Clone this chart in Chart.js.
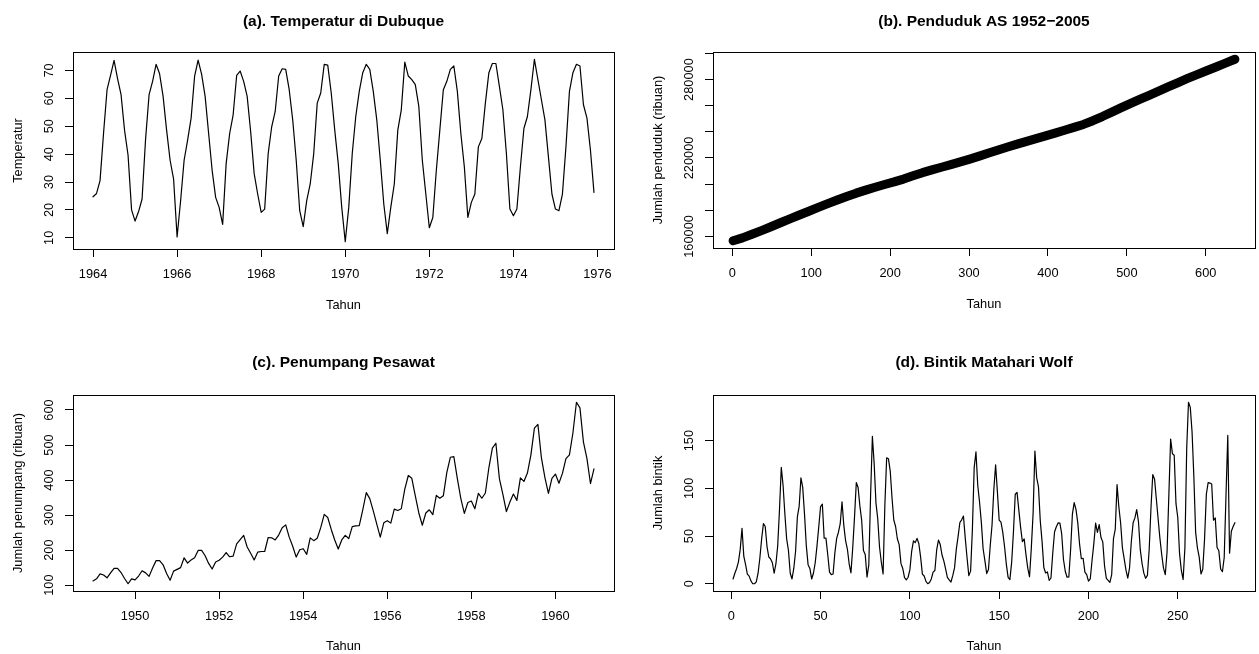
<!DOCTYPE html>
<html>
<head>
<meta charset="utf-8">
<script src="https://cdn.jsdelivr.net/npm/chart.js@4.4.1/dist/chart.umd.min.js"></script>
<style>
  html, body { margin: 0; padding: 0; background: #fff; overflow: hidden; }
  .panel { position: absolute; }
</style>
</head>
<body>
<div class="panel" style="left:0;top:0"><canvas id="pA" width="629" height="327"></canvas></div>
<div class="panel" style="left:629px;top:0"><canvas id="pB" width="630" height="327"></canvas></div>
<div class="panel" style="left:0;top:327px"><canvas id="pC" width="629" height="327"></canvas></div>
<div class="panel" style="left:629px;top:327px"><canvas id="pD" width="630" height="327"></canvas></div>

<script>
// (a) monthly temperature Dubuque, Jan 1964 - Dec 1975
const tempStart = 1964;
const tempDubuque = [
  24.7, 25.9, 30.5, 47.5, 63.1, 68.2, 73.6, 67.1, 61.3, 48.5, 39.6, 20.0,
  16.0, 19.4, 23.9, 45.4, 61.3, 66.1, 72.2, 68.8, 60.7, 48.6, 37.8, 31.0,
  10.3, 23.3, 37.8, 45.0, 52.9, 68.0, 73.7, 68.6, 60.7, 47.4, 34.2, 24.5,
  20.9, 14.8, 36.6, 47.4, 54.1, 68.2, 69.8, 66.1, 60.7, 48.0, 33.0, 25.7,
  19.1, 20.3, 40.2, 49.8, 55.3, 68.0, 70.6, 70.4, 63.1, 52.3, 37.8, 19.7,
  14.0, 23.3, 29.3, 40.2, 58.3, 61.9, 72.2, 71.9, 61.9, 48.6, 36.6, 20.9,
  8.6, 20.9, 40.2, 53.5, 62.5, 69.2, 72.2, 70.4, 62.5, 52.3, 37.8, 22.1,
  11.5, 20.9, 29.3, 48.6, 55.9, 73.0, 68.0, 66.7, 64.9, 57.1, 37.8, 25.7,
  13.6, 17.3, 34.2, 48.6, 63.1, 66.1, 70.4, 71.6, 62.5, 47.4, 35.4, 17.3,
  22.7, 25.7, 42.6, 45.6, 58.3, 69.2, 72.5, 72.5, 64.3, 55.9, 40.2, 20.3,
  17.9, 20.3, 35.4, 49.2, 53.5, 63.1, 74.0, 66.7, 59.5, 52.3, 39.0, 25.7,
  20.3, 19.7, 25.7, 42.6, 62.5, 69.2, 72.2, 71.6, 57.7, 52.9, 41.4, 26.3
];
const tempXTicks = [1964, 1966, 1968, 1970, 1972, 1974, 1976];
const tempYTicks = [10, 20, 30, 40, 50, 60, 70];

// (b) US population (thousands), January of each year 1952-2005, month index 1..637
const popMonth = [1, 13, 25, 37, 49, 61, 73, 85, 97, 109, 121, 133, 145, 157, 169, 181, 193, 205,
  217, 229, 241, 253, 265, 277, 289, 301, 313, 325, 337, 349, 361, 373, 385, 397, 409, 421, 433,
  445, 457, 469, 481, 493, 505, 517, 529, 541, 553, 565, 577, 589, 601, 613, 625, 637];
const popUS = [156700, 158869, 161605, 164479, 167417, 170444, 173433, 176356, 179251, 182181,
  185115, 187890, 190566, 193096, 195432, 197636, 199709, 201692, 203865, 206357,
  208779, 210903, 212882, 214914, 217004, 219137, 221412, 223820, 226140, 228346,
  230565, 232728, 234809, 236875, 239029, 241211, 243394, 245659, 248500, 251700,
  255100, 258500, 261800, 265000, 268100, 271300, 274500, 277700, 280800, 283800,
  286700, 289600, 292500, 295500];
const popXTicks = [0, 100, 200, 300, 400, 500, 600];
const popYTicks = [160000, 180000, 200000, 220000, 240000, 260000, 280000, 300000];
const popYLabels = ['160000', '', '', '220000', '', '', '280000', ''];

// (c) airline passengers (thousands), Jan 1949 - Dec 1960
const airStart = 1949;
const airPassengers = [
  112, 118, 132, 129, 121, 135, 148, 148, 136, 119, 104, 118,
  115, 126, 141, 135, 125, 149, 170, 170, 158, 133, 114, 140,
  145, 150, 178, 163, 172, 178, 199, 199, 184, 162, 146, 166,
  171, 180, 193, 181, 183, 218, 230, 242, 209, 191, 172, 194,
  196, 196, 236, 235, 229, 243, 264, 272, 237, 211, 180, 201,
  204, 188, 235, 227, 234, 264, 302, 293, 259, 229, 203, 229,
  242, 233, 267, 269, 270, 315, 364, 347, 312, 274, 237, 278,
  284, 277, 317, 313, 318, 374, 413, 405, 355, 306, 271, 306,
  315, 301, 356, 348, 355, 422, 465, 467, 404, 347, 305, 336,
  340, 318, 362, 348, 363, 435, 491, 505, 404, 359, 310, 337,
  360, 342, 406, 396, 420, 472, 548, 559, 463, 407, 362, 405,
  417, 391, 419, 461, 472, 535, 622, 606, 508, 461, 390, 432
];
const airXTicks = [1950, 1952, 1954, 1956, 1958, 1960];
const airYTicks = [100, 200, 300, 400, 500, 600];

// (d) Wolf sunspot numbers, yearly
const sunspots = [
  5, 11, 16, 23, 36, 58, 29, 20, 10, 8, 3, 0, 0, 2, 11, 27, 47, 63, 60, 39,
  28, 26, 22, 11, 21, 40, 78, 122, 103, 73, 47, 35, 11, 5, 16, 34, 70, 81, 111, 101,
  73, 40, 20, 16, 5, 11, 22, 40, 60, 80.9, 83.4, 47.7, 47.8, 30.7, 12.2, 9.6, 10.2, 32.4, 47.6, 54,
  62.9, 85.9, 61.2, 45.1, 36.4, 20.9, 11.4, 37.8, 69.8, 106.1, 100.8, 81.6, 66.5, 34.8, 30.6, 7, 19.8, 92.5, 154.4, 125.9,
  84.8, 68.1, 38.5, 22.8, 10.2, 82.9, 132, 130.9, 118.1,
  89.9, 66.6, 60, 46.9, 41, 21.3, 16, 6.4, 4.1, 6.8,
  14.5, 34, 45, 43.1, 47.5, 42.2, 28.1, 10.1, 8.1, 2.5,
  0, 1.4, 5, 12.2, 13.9, 35.4, 45.8, 41.1, 30.1, 23.9,
  15.6, 6.6, 4, 1.8, 8.5, 16.6, 36.3, 49.6, 64.2, 67,
  70.9, 47.8, 27.5, 8.5, 13.2, 56.9, 121.5, 138.3, 103.2, 85.7,
  64.6, 36.7, 24.2, 10.7, 15, 40.1, 61.5, 98.5, 124.7, 96.3,
  66.6, 64.5, 54.1, 39, 20.6, 6.7, 4.3, 22.7, 54.8, 93.8,
  95.8, 77.2, 59.1, 44, 47, 30.5, 16.3, 7.3, 37.6, 74,
  139, 111.2, 101.6, 66.2, 44.7, 17, 11.3, 12.4, 3.4, 6,
  32.3, 54.3, 59.7, 63.7, 63.5, 52.2, 25.4, 13.1, 6.8,
  7.1, 35.6, 73, 85.1, 78, 64, 41.8, 26.2, 26.7, 12.1,
  9.5, 2.7, 5, 24.4, 42, 63.5, 53.8, 62, 48.5, 43.9,
  18.6, 5.7, 3.6, 1.4, 9.6, 47.4, 57.1, 103.9, 80.6, 63.6,
  37.6, 26.1, 14.2, 5.8, 16.7, 44.3, 63.9, 69, 77.8, 64.9,
  35.7, 21.2, 11.1, 5.7, 8.7, 36.1, 79.7, 114.4, 109.6, 88.8,
  67.8, 47.5, 30.6, 16.3, 9.6, 33.2, 92.6, 151.6, 136.3, 134.7,
  83.9, 69.4, 31.5, 13.9, 4.4, 38, 141.7, 190.2, 184.8, 159,
  112.3, 53.9, 37.5, 27.9, 10.2, 15.1, 47, 93.8, 105.9, 105.5,
  104.5, 66.6, 68.9, 38, 34.5, 15.5, 12.6, 27.5, 92.5, 155.4,
  32, 55, 60, 64
];
const sunXTicks = [0, 50, 100, 150, 200, 250];
const sunYTicks = [0, 50, 100, 150];

const FONT = '"Liberation Sans", Arial, Helvetica, sans-serif';
const FS = 12.8;
Chart.defaults.font.family = FONT;
Chart.defaults.font.size = FS;
Chart.defaults.color = '#000';

// R style: range of the data widened by 4% on each side
function rRange(arr) {
  let lo = Math.min(...arr), hi = Math.max(...arr);
  let d = (hi - lo) * 0.04;
  return [lo - d, hi + d];
}

// box around the plot region and rotated y tick labels, like base R graphics
const rAxes = {
  id: 'rAxes',
  afterDraw(chart, args, opts) {
    const ctx = chart.ctx, a = chart.chartArea;
    ctx.save();
    ctx.strokeStyle = '#000';
    ctx.lineWidth = 1;
    let l = Math.round(a.left) + 0.5, t = Math.round(a.top) + 0.5;
    let r = Math.round(a.right) + 0.5, b = Math.round(a.bottom) + 0.5;
    ctx.strokeRect(l, t, r - l, b - t);
    const ys = chart.scales.y;
    ctx.fillStyle = '#000';
    ctx.font = FS + 'px ' + FONT;
    ctx.textAlign = 'center';
    ctx.textBaseline = 'middle';
    opts.ticks.forEach((v, i) => {
      let lab = opts.labels ? opts.labels[i] : String(v);
      if (!lab) return;
      ctx.save();
      ctx.translate(a.left - 23.3, ys.getPixelForValue(v));
      ctx.rotate(-Math.PI / 2);
      ctx.fillText(lab, 0, 0);
      ctx.restore();
    });
    ctx.restore();
  }
};

function makePanel(id, p) {
  const canvas = document.getElementById(id);
  const W = canvas.width, H = canvas.height;
  const xr = rRange(p.xs), yr = rRange(p.ys);
  const titleTop = p.titleY - 9.3;
  const xH = H - p.box.b;
  new Chart(canvas, {
    type: 'line',
    data: {
      datasets: [{
        data: p.xs.map((x, i) => ({ x: x, y: p.ys[i] })),
        borderColor: '#000',
        borderWidth: p.lw,
        borderCapStyle: 'round',
        borderJoinStyle: 'round',
        pointRadius: 0,
        tension: 0,
        fill: false
      }]
    },
    options: {
      responsive: false,
      animation: false,
      layout: { padding: { left: 0, top: 0, right: W - p.box.r, bottom: 0 } },
      plugins: {
        legend: { display: false },
        tooltip: { enabled: false },
        title: {
          display: true,
          text: p.title,
          fullSize: false,
          color: '#000',
          font: { size: 15.5, weight: 'bold', lineHeight: 1.2 },
          padding: { top: titleTop, bottom: p.box.t - titleTop - 18.6 }
        },
        rAxes: { ticks: p.yTicks, labels: p.yLabels }
      },
      scales: {
        x: {
          type: 'linear',
          min: xr[0], max: xr[1],
          border: { display: false },
          grid: { display: true, drawOnChartArea: false, drawTicks: true, tickLength: 8, color: '#000', lineWidth: 1 },
          afterBuildTicks: s => { s.ticks = p.xTicks.map(v => ({ value: v })); },
          afterFit: s => { s.height = xH; },
          ticks: {
            autoSkip: false, maxRotation: 0, minRotation: 0, padding: 9.3, color: '#000',
            callback: v => String(v)
          },
          title: {
            display: true, text: 'Tahun', color: '#000',
            padding: { top: 0, bottom: Math.max(0, xH - 56 - 7.7) }
          }
        },
        y: {
          type: 'linear',
          min: yr[0], max: yr[1],
          border: { display: false },
          grid: { display: true, drawOnChartArea: false, drawTicks: true, tickLength: 8, color: '#000', lineWidth: 1 },
          afterBuildTicks: s => { s.ticks = p.yTicks.map(v => ({ value: v })); },
          afterFit: s => { s.width = p.box.l; },
          ticks: { display: false },
          title: {
            display: true, text: p.yTitle, color: '#000',
            padding: { top: p.box.l - 55 - 7.7, bottom: 0 }
          }
        }
      }
    },
    plugins: [rAxes]
  });
}

makePanel('pA', {
  xs: tempDubuque.map((v, i) => tempStart + i / 12), ys: tempDubuque,
  xTicks: tempXTicks, yTicks: tempYTicks,
  title: '(a). Temperatur di Dubuque', yTitle: 'Temperatur',
  box: { l: 73, t: 52, r: 614, b: 249 }, titleY: 21.7, lw: 1.2
});
makePanel('pB', {
  xs: popMonth, ys: popUS,
  xTicks: popXTicks, yTicks: popYTicks, yLabels: popYLabels,
  title: '(b). Penduduk AS 1952\u22122005', yTitle: 'Jumlah penduduk (ribuan)',
  box: { l: 84, t: 52, r: 626, b: 248 }, titleY: 21.7, lw: 9
});
makePanel('pC', {
  xs: airPassengers.map((v, i) => airStart + i / 12), ys: airPassengers,
  xTicks: airXTicks, yTicks: airYTicks,
  title: '(c). Penumpang Pesawat', yTitle: 'Jumlah penumpang (ribuan)',
  box: { l: 73, t: 68, r: 614, b: 264 }, titleY: 35.5, lw: 1.2
});
makePanel('pD', {
  xs: sunspots.map((v, i) => i + 1), ys: sunspots,
  xTicks: sunXTicks, yTicks: sunYTicks,
  title: '(d). Bintik Matahari Wolf', yTitle: 'Jumlah bintik',
  box: { l: 84, t: 68, r: 626, b: 264 }, titleY: 35.5, lw: 1.2
});
</script>
</body>
</html>
